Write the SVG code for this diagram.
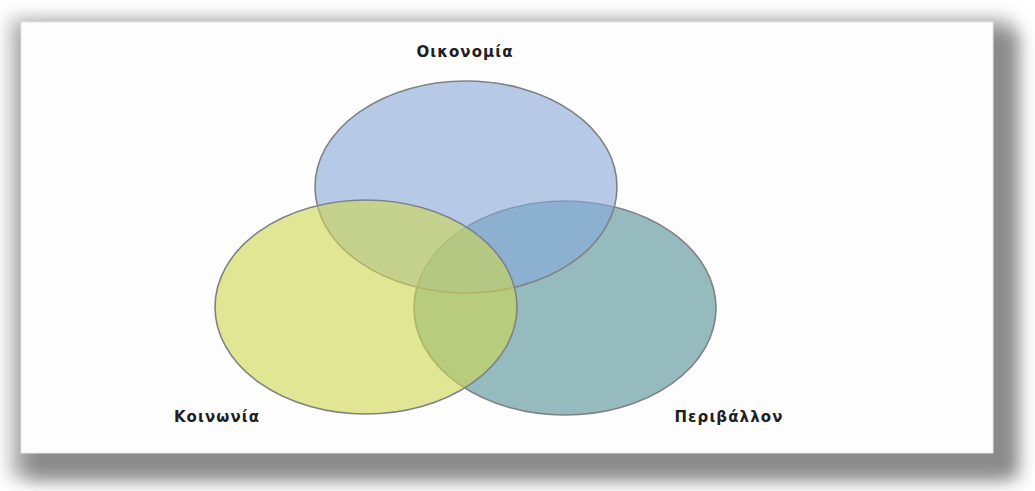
<svg xmlns="http://www.w3.org/2000/svg" width="1035" height="491" viewBox="0 0 1035 491">
<defs>
<filter id="sh" x="-10%" y="-10%" width="120%" height="130%"><feGaussianBlur stdDeviation="9"/></filter>
<style>
.lbl{font-family:"DejaVu Sans","Liberation Sans",sans-serif;font-weight:bold;font-size:15px;letter-spacing:1.1px;fill:#1e1e24;text-anchor:middle}
.c{stroke:#7f8184;stroke-width:1.6;fill-opacity:0.6}
</style>
</defs>
<rect x="10" y="18" width="1000" height="460" fill="#b8b8b8" filter="url(#sh)"/>
<rect x="26" y="30" width="992" height="448" fill="#8a8a8a" filter="url(#sh)"/>
<rect x="21" y="22" width="972" height="431" fill="#fdfdfd" stroke="#e6e6e6" stroke-width="1"/>
<g id="perivallon">
<ellipse class="c" cx="565" cy="308" rx="151" ry="107" fill="#508f94"/>
<text class="lbl" x="729" y="422">Περιβάλλον</text>
</g>
<g id="oikonomia">
<ellipse class="c" cx="466" cy="187" rx="151" ry="106" fill="#87a8da"/>
<text class="lbl" x="465" y="57">Οικονομία</text>
</g>
<g id="koinonia">
<ellipse class="c" cx="366" cy="307" rx="151" ry="107" fill="#cfd750"/>
<text class="lbl" x="217" y="422">Κοινωνία</text>
</g>
<g id="connectors"/>
</svg>
